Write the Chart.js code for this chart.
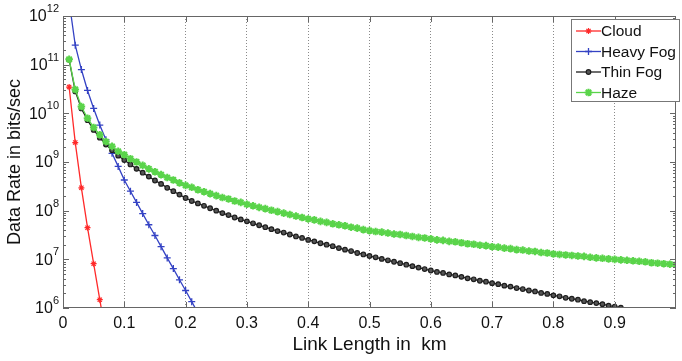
<!DOCTYPE html>
<html>
<head>
<meta charset="utf-8">
<script src="https://cdn.jsdelivr.net/npm/chart.js@4.4.0/dist/chart.umd.min.js"></script>
<style>
  html, body { margin: 0; padding: 0; background: #fff; }
</style>
</head>
<body>
<canvas id="chart" width="682" height="361"></canvas>
<script>
// link length (km), shared by every series
const linkLength = [
  0.01, 0.02, 0.03, 0.04, 0.05, 0.06, 0.07, 0.08, 0.09, 0.10,
  0.11, 0.12, 0.13, 0.14, 0.15, 0.16, 0.17, 0.18, 0.19, 0.20,
  0.21, 0.22, 0.23, 0.24, 0.25, 0.26, 0.27, 0.28, 0.29, 0.30,
  0.31, 0.32, 0.33, 0.34, 0.35, 0.36, 0.37, 0.38, 0.39, 0.40,
  0.41, 0.42, 0.43, 0.44, 0.45, 0.46, 0.47, 0.48, 0.49, 0.50,
  0.51, 0.52, 0.53, 0.54, 0.55, 0.56, 0.57, 0.58, 0.59, 0.60,
  0.61, 0.62, 0.63, 0.64, 0.65, 0.66, 0.67, 0.68, 0.69, 0.70,
  0.71, 0.72, 0.73, 0.74, 0.75, 0.76, 0.77, 0.78, 0.79, 0.80,
  0.81, 0.82, 0.83, 0.84, 0.85, 0.86, 0.87, 0.88, 0.89, 0.90,
  0.91, 0.92, 0.93, 0.94, 0.95, 0.96, 0.97, 0.98, 0.99, 1.00
];

const seriesNames = ['Cloud', 'Heavy Fog', 'Thin Fog', 'Haze'];

// data rate (bits/sec)
const cloud = [3.47e10, 2.51e9, 2.95e8, 4.47e7, 8.13e6, 1.48e6, 2.82e5];

const heavyFog = [
  2.0e12, 2.51e11, 7.94e10, 2.95e10, 1.26e10, 5.75e9, 2.88e9, 1.51e9, 8.13e8, 4.27e8,
  2.51e8, 1.48e8, 8.71e7, 5.13e7, 3.09e7, 1.82e7, 1.07e7, 6.46e6, 3.80e6, 2.29e6,
  1.35e6, 7.94e5
];

const thinFog = [
  1.26e11, 2.82e10, 1.26e10, 7.24e9, 4.57e9, 3.16e9, 2.29e9, 1.74e9, 1.35e9, 1.10e9,
  8.91e8, 7.24e8, 6.03e8, 5.01e8, 4.17e8, 3.55e8, 2.95e8, 2.51e8, 2.14e8, 1.82e8,
  1.58e8, 1.41e8, 1.26e8, 1.12e8, 1.00e8, 8.91e7, 8.13e7, 7.24e7, 6.61e7, 6.03e7,
  5.50e7, 5.01e7, 4.57e7, 4.17e7, 3.80e7, 3.55e7, 3.24e7, 2.95e7, 2.75e7, 2.51e7,
  2.34e7, 2.14e7, 2.00e7, 1.86e7, 1.70e7, 1.58e7, 1.48e7, 1.35e7, 1.26e7, 1.17e7,
  1.10e7, 1.02e7, 9.55e6, 8.91e6, 8.32e6, 7.76e6, 7.24e6, 6.76e6, 6.31e6, 5.89e6,
  5.50e6, 5.25e6, 4.90e6, 4.68e6, 4.37e6, 4.07e6, 3.89e6, 3.63e6, 3.47e6, 3.24e6,
  3.09e6, 2.88e6, 2.75e6, 2.57e6, 2.45e6, 2.29e6, 2.19e6, 2.04e6, 1.95e6, 1.82e6,
  1.74e6, 1.62e6, 1.55e6, 1.48e6, 1.38e6, 1.32e6, 1.26e6, 1.20e6, 1.12e6, 1.07e6,
  1.02e6
];

const haze = [
  1.29e11, 3.09e10, 1.38e10, 7.94e9, 5.13e9, 3.63e9, 2.63e9, 2.09e9, 1.66e9, 1.41e9,
  1.17e9, 1.00e9, 8.51e8, 7.24e8, 6.31e8, 5.50e8, 4.79e8, 4.27e8, 3.72e8, 3.31e8,
  3.02e8, 2.69e8, 2.45e8, 2.24e8, 2.04e8, 1.86e8, 1.74e8, 1.58e8, 1.48e8, 1.35e8,
  1.26e8, 1.17e8, 1.10e8, 1.02e8, 9.55e7, 8.91e7, 8.32e7, 7.76e7, 7.24e7, 6.76e7,
  6.46e7, 6.03e7, 5.75e7, 5.37e7, 5.13e7, 4.90e7, 4.57e7, 4.37e7, 4.07e7, 3.89e7,
  3.72e7, 3.63e7, 3.47e7, 3.31e7, 3.24e7, 3.09e7, 2.95e7, 2.82e7, 2.75e7, 2.63e7,
  2.51e7, 2.45e7, 2.34e7, 2.29e7, 2.19e7, 2.09e7, 2.04e7, 1.95e7, 1.91e7, 1.82e7,
  1.78e7, 1.70e7, 1.66e7, 1.58e7, 1.55e7, 1.48e7, 1.45e7, 1.38e7, 1.35e7, 1.29e7,
  1.26e7, 1.23e7, 1.20e7, 1.17e7, 1.15e7, 1.10e7, 1.07e7, 1.05e7, 1.02e7, 1.00e7,
  9.77e6, 9.55e6, 9.33e6, 9.12e6, 8.91e6, 8.51e6, 8.32e6, 8.13e6, 7.94e6, 7.76e6
];

const xTicks = [0, 0.1, 0.2, 0.3, 0.4, 0.5, 0.6, 0.7, 0.8, 0.9];
const yDecades = [6, 7, 8, 9, 10, 11, 12];
const yMinor = [2, 3, 4, 5, 6, 7, 8, 9];

const FONT = "'Liberation Sans', Arial, sans-serif";

const toPoints = (vals) => vals.map((v, i) => ({ x: linkLength[i], y: v }));

// box, inward ticks, 10^n labels and the legend
const frame = {
  id: 'frame',
  afterDatasetsDraw(chart) {
    const { ctx, chartArea: a, scales: { x, y } } = chart;
    ctx.save();
    ctx.strokeStyle = '#666';
    ctx.lineWidth = 1;
    ctx.beginPath();
    const yTick = (v, len) => {
      const py = Math.round(y.getPixelForValue(v)) + 0.5;
      ctx.moveTo(a.left, py); ctx.lineTo(a.left + len, py);
      ctx.moveTo(a.right, py); ctx.lineTo(a.right - len, py);
    };
    yDecades.forEach(e => {
      yTick(Math.pow(10, e), 6);
      if (e < 12) yMinor.forEach(m => yTick(m * Math.pow(10, e), 3));
    });
    xTicks.forEach(v => {
      const px = Math.round(x.getPixelForValue(v)) + 0.5;
      ctx.moveTo(px, a.bottom); ctx.lineTo(px, a.bottom - 6);
      ctx.moveTo(px, a.top); ctx.lineTo(px, a.top + 6);
    });
    ctx.stroke();
    ctx.strokeRect(a.left + 0.5, a.top + 0.5, a.right - a.left - 1, a.bottom - a.top - 1);

    // y labels as 10 with a raised exponent
    ctx.fillStyle = '#111';
    ctx.textBaseline = 'middle';
    yDecades.forEach(e => {
      const py = y.getPixelForValue(Math.pow(10, e));
      ctx.font = '11px ' + FONT;
      ctx.textAlign = 'left';
      const ew = ctx.measureText(String(e)).width;
      const ex = a.left - 4 - ew;
      ctx.fillText(String(e), ex, py - 7);
      ctx.font = '16px ' + FONT;
      ctx.textAlign = 'right';
      ctx.fillText('10', ex, py + 1);
    });

    // legend
    const lx = 571, ly = 19, lw = 108, lh = 82;
    ctx.fillStyle = '#fff';
    ctx.fillRect(lx, ly, lw, lh);
    ctx.strokeStyle = '#777';
    ctx.strokeRect(lx + 0.5, ly + 0.5, lw, lh);
    ctx.font = '15.5px ' + FONT;
    ctx.textAlign = 'left';
    ctx.textBaseline = 'middle';
    chart.data.datasets.forEach((ds, i) => {
      const yy = ly + 12 + i * 20.5;
      ctx.strokeStyle = ds.borderColor;
      ctx.lineWidth = 1.3;
      ctx.beginPath();
      ctx.moveTo(lx + 5, yy); ctx.lineTo(lx + 30, yy);
      ctx.stroke();
      if (Chart.helpers && Chart.helpers.drawPoint) {
        ctx.fillStyle = ds.pointBackgroundColor;
        ctx.strokeStyle = ds.pointBorderColor;
        ctx.lineWidth = ds.pointBorderWidth;
        Chart.helpers.drawPoint(ctx, { pointStyle: ds.pointStyle, radius: ds.pointRadius, borderWidth: ds.pointBorderWidth, rotation: 0 }, lx + 17.5, yy);
      }
      ctx.fillStyle = '#111';
      ctx.fillText(ds.label, lx + 30, yy + 1);
    });
    ctx.restore();
  }
};

const mk = (label, vals, color, style, r, bw, bg, order) => ({
  label: label,
  data: toPoints(vals),
  borderColor: color,
  backgroundColor: color,
  borderWidth: 1.3,
  pointStyle: style,
  pointRadius: r,
  pointBorderWidth: bw,
  pointBorderColor: color,
  pointBackgroundColor: bg,
  tension: 0,
  order: order
});

const ctx = document.getElementById('chart').getContext('2d');
const chart = new Chart(ctx, {
  type: 'line',
  data: {
    datasets: [
      mk(seriesNames[0], cloud, '#ff2a2a', 'star', 3, 1.2, '#ff2a2a', 3),
      mk(seriesNames[1], heavyFog, '#3442c4', 'cross', 3.5, 1.3, '#3442c4', 2),
      mk(seriesNames[2], thinFog, '#1e1e1e', 'circle', 2.3, 1.2, '#555', 1),
      mk(seriesNames[3], haze, '#5ad44a', 'star', 3.8, 2, '#5ad44a', 0)
    ]
  },
  options: {
    responsive: false,
    animation: false,
    devicePixelRatio: 1,
    layout: { padding: { top: 16, right: 2, left: 0, bottom: 0 } },
    plugins: { legend: { display: false }, tooltip: { enabled: false } },
    scales: {
      x: {
        type: 'linear',
        min: 0,
        max: 1,
        afterFit: s => { s.height = 53; },
        afterBuildTicks: s => { s.ticks = xTicks.map(v => ({ value: v })); },
        grid: { color: '#8a8a8a', lineWidth: 1, drawTicks: false },
        border: { display: false, dash: [1, 2] },
        ticks: {
          autoSkip: false,
          maxRotation: 0,
          padding: 6,
          color: '#111',
          font: { family: FONT, size: 16 },
          callback: v => String(Math.round(v * 10) / 10)
        },
        title: {
          display: true,
          text: 'Link Length in  km',
          color: '#111',
          font: { family: FONT, size: 19 },
          padding: { top: 0, bottom: 5 }
        }
      },
      y: {
        type: 'logarithmic',
        min: 1e6,
        max: 1e12,
        afterFit: s => { s.width = 63; },
        grid: { display: false, drawTicks: false },
        border: { display: false },
        ticks: {
          autoSkip: false,
          padding: 5,
          color: '#111',
          font: { family: FONT, size: 15 },
          callback: () => ''
        },
        title: {
          display: true,
          text: 'Data Rate in bits/sec',
          color: '#111',
          font: { family: FONT, size: 18 },
          padding: { top: 4, bottom: 0 }
        }
      }
    }
  },
  plugins: [frame]
});
</script>
</body>
</html>
